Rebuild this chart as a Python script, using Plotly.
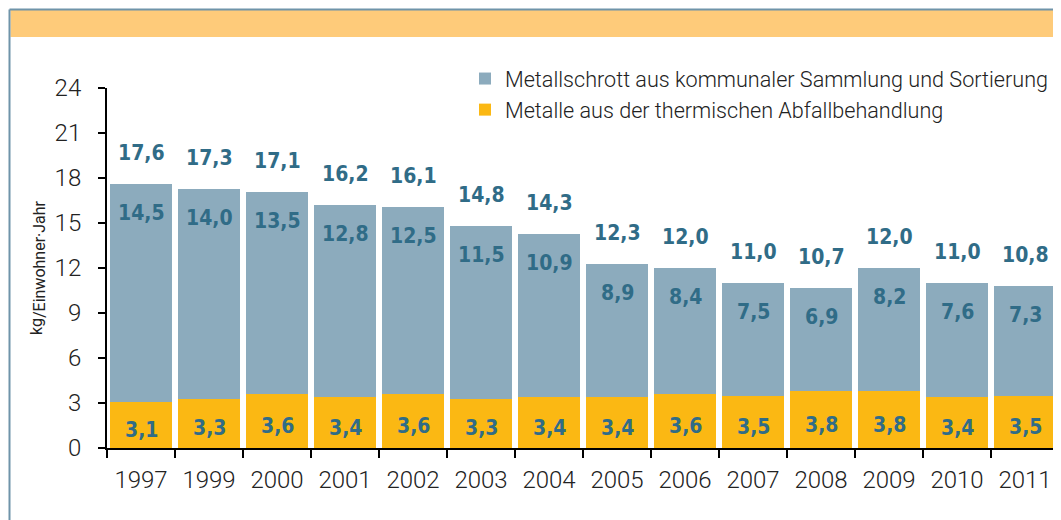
import plotly.graph_objects as go

years = ["1997", "1999", "2000", "2001", "2002", "2003", "2004", "2005",
         "2006", "2007", "2008", "2009", "2010", "2011"]
schrott = [14.5, 14.0, 13.5, 12.8, 12.5, 11.5, 10.9, 8.9, 8.4, 7.5, 6.9, 8.2, 7.6, 7.3]
thermisch = [3.1, 3.3, 3.6, 3.4, 3.6, 3.3, 3.4, 3.4, 3.6, 3.5, 3.8, 3.8, 3.4, 3.5]
totals = [17.6, 17.3, 17.1, 16.2, 16.1, 14.8, 14.3, 12.3, 12.0, 11.0, 10.7, 12.0, 11.0, 10.8]
y_ticks = [0, 3, 6, 9, 12, 15, 18, 21, 24]

name_schrott = "Metallschrott aus kommunaler Sammlung und Sortierung"
name_therm = "Metalle aus der thermischen Abfallbehandlung"

C_GRAY = "#8CABBD"
C_ORANGE = "#FBB813"
C_TEXT = "#306C87"
C_BAND = "#FECB7A"
C_FRAME = "#6F94A9"

LABEL_FONT = dict(family="DejaVu Sans Condensed, DejaVu Sans", size=21, color=C_TEXT, weight="bold")
TICK_FONT = dict(family="Roboto, Liberation Sans, sans-serif", size=24, color="#222222", weight=300)

def fmt(v):
    return "<span style='font-stretch:condensed'>" + f"{v:.1f}".replace(".", ",") + "</span>"

fig = go.Figure()
fig.add_trace(go.Bar(x=years, y=thermisch, name=name_therm, marker_color=C_ORANGE,
                     marker_line_width=0, width=0.9))
fig.add_trace(go.Bar(x=years, y=schrott, name=name_schrott, marker_color=C_GRAY,
                     marker_line_width=0, width=0.9))

ann = []
for i, (s, t, tot) in enumerate(zip(schrott, thermisch, totals)):
    ann.append(dict(x=i, y=tot, text=fmt(tot), showarrow=False, yshift=31, font=LABEL_FONT))
    ann.append(dict(x=i, y=tot, text=fmt(s), showarrow=False, yshift=-29, font=LABEL_FONT))
    ann.append(dict(x=i, y=t / 2, text=fmt(t), showarrow=False, yshift=-5, font=LABEL_FONT))

# screen coords of plot area: x 107..1059, y 88..448 (page has 8px body margin)
def px(xp):
    return (xp - 107) / 952

def py(yp):
    return (448 - yp) / 360

shapes = [
    dict(type="rect", xref="paper", yref="paper", x0=px(10.5), x1=px(1075), y0=py(37), y1=py(9.5),
         fillcolor=C_BAND, line_width=0, layer="below"),
    dict(type="line", xref="paper", yref="paper", x0=px(9.5), x1=px(1075), y0=py(9.5), y1=py(9.5),
         line=dict(color=C_FRAME, width=2)),
    dict(type="line", xref="paper", yref="paper", x0=px(9.5), x1=px(9.5), y0=py(9.5), y1=py(540),
         line=dict(color=C_FRAME, width=2)),
]

fig.update_layout(
    width=1061, height=520,
    margin=dict(l=99, r=10, t=80, b=80, autoexpand=False),
    paper_bgcolor="white", plot_bgcolor="white",
    barmode="stack", bargap=0.1,
    showlegend=True,
    legend=dict(x=px(465), y=py(58), xanchor="left", yanchor="top", traceorder="reversed",
                font=dict(family="Roboto, Liberation Sans, sans-serif", size=21.6, color="#222222", weight=300),
                bgcolor="rgba(0,0,0,0)", itemsizing="constant", tracegroupgap=0),
    xaxis=dict(type="category", range=[-0.5, len(years) - 0.5], showline=True, linecolor="black", linewidth=2,
               ticks="outside", ticklen=8, tickwidth=2, tickcolor="black", tickson="boundaries",
               tickfont=TICK_FONT, ticklabelstandoff=9, showgrid=False, zeroline=False),
    yaxis=dict(range=[0, 24], tickvals=y_ticks, showline=True, linecolor="black", linewidth=2,
               ticks="outside", ticklen=7, tickwidth=2, tickcolor="black",
               tickfont=TICK_FONT, ticklabelstandoff=12, showgrid=False, zeroline=False,
               title=dict(text="<span style='font-size:16px'>kg</span><sub><span style='font-size:16px'>/Einwohner·Jahr</span></sub>",
                          font=dict(family="Roboto, Liberation Sans, sans-serif", size=16, color="#222222"),
                          standoff=8)),
    annotations=ann,
    shapes=shapes,
)

fig.write_html("out.html")
